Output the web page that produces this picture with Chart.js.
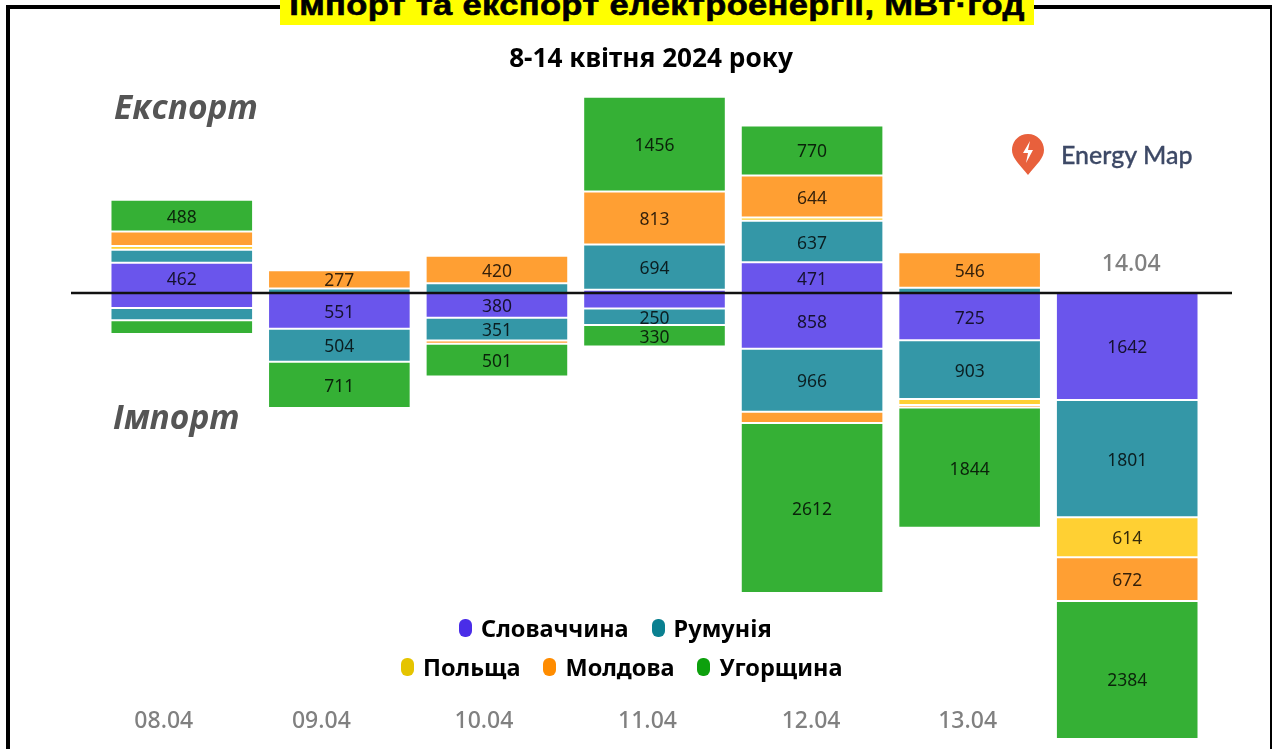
<!DOCTYPE html>
<html lang="uk">
<head>
<meta charset="utf-8">
<title>Імпорт та експорт електроенергії</title>
<script src="https://cdn.jsdelivr.net/npm/chart.js@4/dist/chart.umd.js"></script>
<style>
  html, body { margin: 0; padding: 0; background: #fff; overflow: hidden; }
  #page { position: relative; width: 1272px; height: 749px; overflow: hidden; font-family: "Noto Sans", sans-serif; }
  #chart { position: absolute; left: 0; top: 0; }
  #frame { position: absolute; left: 6px; top: 5px; width: 1260px; height: 800px; border: 4px solid #000; border-right-width: 2px; }
  #title { position: absolute; left: 280px; top: 0; width: 754px; height: 25px; background: #ff0; overflow: hidden; }
  #title span { position: absolute; left: 0; right: 0; top: -12px; text-align: center; white-space: nowrap;
    font: bold 30px/34px "Liberation Sans", sans-serif; color: #000; letter-spacing: .3px;
    -webkit-text-stroke: .6px #000; transform: scaleX(1.15); }
  #subtitle { position: absolute; left: 351px; width: 600px; top: 40px; text-align: center; font-size: 26.2px; line-height: 34px; font-weight: 700; color: #000; }
  .side { position: absolute; font: italic 700 33.5px/40px "Open Sans", sans-serif; color: #555; }
  #brand { position: absolute; left: 1061px; top: 138px; font: 500 25px/32px Lato, sans-serif; color: #3d4966; -webkit-text-stroke: .3px #3d4966; }
  #pin { position: absolute; left: 1011px; top: 133px; }
  .legendRow { position: absolute; display: flex; font-size: 23.5px; font-weight: 700; line-height: 30px; color: #000; white-space: nowrap; }
  .legendItem { display: flex; align-items: center; margin-right: 23px; }
  .legendItem i { display: block; width: 13px; height: 18px; border-radius: 6px; margin-right: 9px; }
</style>
</head>
<body>
<div id="page">
  <canvas id="chart" width="1272" height="749"></canvas>
  <div id="frame"></div>
  <div id="title"><span>Імпорт та експорт електроенергії, МВт·год</span></div>
  <div id="subtitle">8-14 квітня 2024 року</div>
  <div class="side" style="left:114px;top:86px">Експорт</div>
  <div class="side" style="left:113px;top:396px">Імпорт</div>
  <svg id="pin" width="34" height="43" viewBox="0 0 34 43">
    <path d="M17 1C8 1 1 8 1 17c0 8 7 14 16 25 9-11 16-17 16-25C33 8 26 1 17 1z" fill="#e8603c"/>
    <path d="M19 8l-7 12h5l-2 10 7-13h-5z" fill="#fff"/>
  </svg>
  <div id="brand">Energy Map</div>
  <div class="legendRow" id="legend1" style="left:459px;top:613px"></div>
  <div class="legendRow" id="legend2" style="left:401px;top:652px"></div>
</div>
<script>
// Дані, МВт·год
const days = ['08.04', '09.04', '10.04', '11.04', '12.04', '13.04', '14.04'];
const countries = ['Словаччина', 'Румунія', 'Польща', 'Молдова', 'Угорщина'];

// експорт, від нульової лінії вгору
const exportSlovakia = [462, 0, 0, 50, 471, 0, 0];
const exportRomania = [200, 70, 150, 694, 637, 80, 0];
const exportPoland = [60, 0, 0, 0, 50, 0, 0];
const exportMoldova = [220, 277, 420, 813, 644, 546, 0];
const exportHungary = [488, 0, 0, 1456, 770, 0, 0];

// імпорт, від нульової лінії вниз
const importSlovakia = [230, 551, 380, 240, 858, 725, 1642];
const importRomania = [190, 504, 351, 250, 966, 903, 1801];
const importPoland = [0, 0, 0, 0, 0, 90, 614];
const importMoldova = [0, 0, 50, 0, 170, 40, 672];
const importHungary = [210, 711, 501, 330, 2612, 1844, 2384];

const barColors = ['#6a55ec', '#3497a7', '#ffd033', '#ff9f33', '#35b035'];
const legendColors = ['#4a2de8', '#0a8090', '#e5c400', '#ff8c00', '#0da00d'];

const exportSeries = [exportSlovakia, exportRomania, exportPoland, exportMoldova, exportHungary];
const importSeries = [importSlovakia, importRomania, importPoland, importMoldova, importHungary];

// підписи дат стоять не під стовпчиками, тому зсув і висота задані окремо
const dateShift = [-18, -18, -13, -7, -1, -2, 4];
const dateY = [721, 721, 721, 721, 721, 721, 264];
const minLabelValue = 250;

const datasets = [];
countries.forEach((name, i) => {
  const common = { label: name, backgroundColor: barColors[i], borderColor: 'rgba(255,255,255,0.7)', borderWidth: 1, borderSkipped: false, stack: 'all', barPercentage: 0.905, categoryPercentage: 1 };
  datasets.push({ ...common, data: exportSeries[i] });
  datasets.push({ ...common, data: importSeries[i].map(v => -v) });
});

const overlay = {
  id: 'overlay',
  afterDatasetsDraw(chart) {
    const { ctx, scales } = chart;
    const zero = scales.y.getPixelForValue(0);
    ctx.save();
    ctx.strokeStyle = '#111';
    ctx.lineWidth = 2.5;
    ctx.beginPath();
    ctx.moveTo(71, zero);
    ctx.lineTo(1232, zero);
    ctx.stroke();

    ctx.textAlign = 'center';
    ctx.textBaseline = 'middle';
    ctx.font = '17.5px "Noto Sans"';
    ctx.fillStyle = 'rgba(0,0,0,0.8)';
    chart.data.datasets.forEach((ds, d) => {
      chart.getDatasetMeta(d).data.forEach((bar, i) => {
        const v = Math.abs(ds.data[i]);
        if (v >= minLabelValue) ctx.fillText(v, bar.x, (bar.y + bar.base) / 2 + 2);
      });
    });

    ctx.font = '500 23px "Noto Sans"';
    ctx.fillStyle = '#808080';
    days.forEach((day, i) => {
      ctx.fillText(day, scales.x.getPixelForValue(i) + dateShift[i], dateY[i]);
    });
    ctx.restore();
  }
};

new Chart(document.getElementById('chart'), {
  type: 'bar',
  data: { labels: days, datasets },
  options: {
    responsive: false,
    animation: false,
    layout: { padding: { left: 103, right: 66, top: 20, bottom: 11 } },
    plugins: { legend: { display: false }, tooltip: { enabled: false } },
    scales: {
      x: { display: false, stacked: true },
      y: { display: false, stacked: true, min: -6831, max: 4190 }
    }
  },
  plugins: [overlay]
});

function addLegend(rowId, from, to) {
  const row = document.getElementById(rowId);
  for (let i = from; i < to; i++) {
    const item = document.createElement('div');
    item.className = 'legendItem';
    const mark = document.createElement('i');
    mark.style.background = legendColors[i];
    item.appendChild(mark);
    item.appendChild(document.createTextNode(countries[i]));
    row.appendChild(item);
  }
}
addLegend('legend1', 0, 2);
addLegend('legend2', 2, 5);
</script>
</body>
</html>
